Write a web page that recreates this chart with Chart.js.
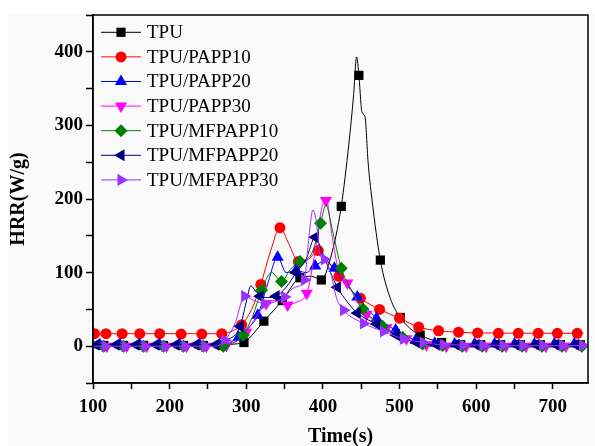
<!DOCTYPE html>
<html>
<head>
<meta charset="utf-8">
<title>HRR</title>
<script src="https://cdn.jsdelivr.net/npm/chart.js@4/dist/chart.umd.min.js"></script>
<style>
  body { margin: 0; background: #fafafa; }
  canvas { display: block; }
</style>
</head>
<body>
<canvas id="hrrChart" width="595" height="446"></canvas>
<script>
// Data HRR (W/g) terhadap waktu (s), dibaca dari gambar
// garis kurva
const tpuT = [100, 270, 285, 297, 310, 323, 347, 370, 385, 398, 410, 424, 434, 440, 444, 447, 451, 455, 459, 464, 475, 488, 501, 514, 527, 541, 555, 575, 740];
const tpuV = [1, 1, 3, 5, 18, 34, 62, 93, 95, 90, 120, 190, 276, 340, 393, 368, 318, 312, 250, 200, 117, 65, 39, 24, 15, 9, 5, 2, 1];
const p10T = [100, 268, 280, 294, 307, 319, 332, 344, 356, 368, 381, 394, 408, 421, 435, 449, 474, 500, 525, 551, 577, 602, 740];
const p10V = [17, 17, 20, 29, 50, 84, 130, 161, 138, 115, 118, 130, 113, 95, 78, 65, 50, 38, 26, 21, 19, 18, 17.5];
const p20T = [100, 265, 278, 290, 303, 315, 328, 341, 352, 365, 378, 390, 402, 415, 430, 445, 470, 495, 521, 546, 740];
const p20V = [2, 2, 5, 12, 25, 42, 85, 121, 100, 103, 100, 109, 116, 106, 85, 67, 38, 22, 8, 4, 3];
const p30T = [100, 270, 285, 300, 313, 326, 340, 354, 366, 379, 390, 398, 404, 412, 420, 432, 445, 457, 483, 509, 535, 740];
const p30V = [0, 0, 5, 19, 40, 58, 62, 56, 60, 72, 130, 185, 201, 150, 105, 86, 60, 43, 25, 10, 2, 0];
const m10T = [100, 270, 283, 296, 308, 320, 333, 346, 358, 370, 385, 397, 404, 412, 424, 438, 452, 478, 504, 530, 556, 740];
const m10V = [0, 0, 5, 15, 40, 76, 100, 88, 105, 115, 125, 167, 192, 160, 106, 75, 51, 27, 12, 3, 1, 0];
const m20T = [100, 260, 275, 292, 300, 306, 312, 318, 328, 339, 352, 365, 378, 390, 400, 410, 419, 432, 445, 470, 496, 522, 548, 740];
const m20V = [2, 2, 8, 27, 60, 82, 75, 68, 66, 68, 80, 100, 118, 148, 125, 100, 80, 60, 45, 30, 15, 5, 2, 2];
const m30T = [100, 260, 272, 285, 298, 310, 324, 337, 350, 363, 376, 381, 387, 392, 396, 402, 410, 418, 427, 453, 479, 505, 531, 557, 740];
const m30V = [0, 0, 8, 30, 68, 62, 58, 60, 67, 80, 90, 140, 185, 165, 125, 118, 100, 65, 49, 31, 20, 10, 5, 2, 1];

// posisi simbol
const tpuMarkT = [114, 140, 166, 192, 218, 244, 270, 297, 323, 347, 370, 398, 424, 447, 475, 501, 527, 555, 580, 606, 632, 658, 684, 710, 736];
const tpuMarkV = [1, 1, 1, 1, 1, 1, 1, 5, 34, 62, 93, 90, 190, 368, 117, 39, 15, 5, 2, 2, 2, 2, 2, 2, 2];
const p10MarkT = [102, 117, 138, 161, 187, 215, 242, 268, 294, 319, 344, 368, 394, 421, 449, 474, 500, 525, 551, 577, 602, 629, 655, 681, 706, 732];
const p10MarkV = [17, 17, 17, 17, 17, 16.5, 16.5, 17, 29, 84, 161, 115, 130, 95, 65, 50, 38, 26, 21, 19, 18, 17.5, 17.5, 17.5, 17.5, 17.5];
const p20MarkT = [109, 135, 161, 187, 213, 239, 265, 290, 315, 341, 365, 390, 415, 445, 470, 495, 521, 546, 572, 598, 624, 650, 676, 702, 728];
const p20MarkV = [2, 2, 2, 2, 2, 2, 2, 12, 42, 121, 103, 109, 106, 67, 38, 22, 8, 4, 3, 3, 3, 3, 3, 3, 3];
const p30MarkT = [118, 144, 170, 196, 222, 248, 274, 300, 326, 354, 379, 404, 432, 457, 483, 509, 535, 561, 587, 613, 639, 665, 691, 717];
const p30MarkV = [0, 0, 0, 0, 0, 0, 1, 19, 58, 56, 72, 198, 86, 43, 25, 10, 2, 0, 0, 0, 0, 0, 0, 0];
const m10MarkT = [114, 140, 166, 192, 218, 244, 270, 296, 320, 346, 370, 397, 424, 452, 478, 504, 530, 556, 582, 608, 634, 660, 686, 712, 738];
const m10MarkV = [0, 0, 0, 0, 0, 0, 0, 15, 76, 88, 115, 167, 106, 51, 27, 12, 3, 1, 0, 0, 0, 0, 0, 0, 0];
const m20MarkT = [104, 130, 156, 182, 208, 234, 260, 292, 318, 339, 365, 390, 419, 445, 470, 496, 522, 548, 574, 600, 626, 652, 678, 704, 730];
const m20MarkV = [2, 2, 2, 2, 2, 2, 2, 27, 68, 68, 100, 148, 80, 45, 30, 15, 5, 2, 2, 2, 2, 2, 2, 2, 2];
const m30MarkT = [116, 142, 168, 194, 220, 246, 272, 298, 324, 350, 376, 402, 427, 453, 479, 505, 531, 557, 583, 609, 635, 661, 687, 713, 739];
const m30MarkV = [0, 0, 0, 0, 0, 0, 8, 68, 58, 67, 90, 118, 49, 31, 20, 10, 5, 2, 1, 1, 1, 1, 1, 1, 1];

const seriesLabels = ['TPU', 'TPU/PAPP10', 'TPU/PAPP20', 'TPU/PAPP30', 'TPU/MFPAPP10', 'TPU/MFPAPP20', 'TPU/MFPAPP30'];

const serifFont = "'Liberation Serif', 'Times New Roman', serif";

const series = [
    { t: tpuT, v: tpuV, mt: tpuMarkT, mv: tpuMarkV, color: '#000000', style: 'rect', rot: 0, r: 6.5 },
    { t: p10T, v: p10V, mt: p10MarkT, mv: p10MarkV, color: '#ff0000', style: 'circle', rot: 0, r: 5.5 },
    { t: p20T, v: p20V, mt: p20MarkT, mv: p20MarkV, color: '#0000ff', style: 'triangle', rot: 0, r: 7 },
    { t: p30T, v: p30V, mt: p30MarkT, mv: p30MarkV, color: '#ff00ff', style: 'triangle', rot: 180, r: 7 },
    { t: m10T, v: m10V, mt: m10MarkT, mv: m10MarkV, color: '#008000', style: 'rectRot', rot: 0, r: 6.5 },
    { t: m20T, v: m20V, mt: m20MarkT, mv: m20MarkV, color: '#000080', style: 'triangle', rot: -90, r: 7 },
    { t: m30T, v: m30V, mt: m30MarkT, mv: m30MarkV, color: '#9933ff', style: 'triangle', rot: 90, r: 7 }
];

const toXY = (xs, ys) => xs.map((x, i) => ({ x: x, y: ys[i] }));

const datasets = [];
series.forEach((s, i) => {
    // garis
    datasets.push({
        label: seriesLabels[i],
        data: toXY(s.t, s.v),
        borderColor: s.color,
        borderWidth: 1,
        pointRadius: 0,
        cubicInterpolationMode: 'monotone',
        fill: false,
        order: 100 - 2 * i
    });
    // simbol
    datasets.push({
        label: seriesLabels[i] + ' symbol',
        data: toXY(s.mt, s.mv),
        showLine: false,
        pointStyle: s.style,
        rotation: s.rot,
        pointRadius: s.r,
        pointBackgroundColor: s.color,
        pointBorderColor: s.color,
        pointBorderWidth: 0,
        order: 99 - 2 * i
    });
});

// Latar belakang abu-abu muda
const bgPlugin = {
    id: 'bg',
    beforeDraw(chart) {
        const ctx = chart.ctx;
        ctx.save();
        ctx.fillStyle = '#ffffff';
        ctx.fillRect(0, 0, chart.width, chart.height);
        ctx.fillStyle = '#fafafa';
        ctx.fillRect(8, 13, chart.width - 8, chart.height - 13);
        ctx.restore();
    }
};

// Bingkai area plot + legenda
const framePlugin = {
    id: 'frame',
    afterDraw(chart) {
        const ctx = chart.ctx;
        const a = chart.chartArea;
        ctx.save();
        ctx.strokeStyle = '#000';
        ctx.lineWidth = 1.5;
        ctx.strokeRect(a.left, a.top, a.right - a.left, a.bottom - a.top);

        // legenda
        ctx.font = '19px ' + serifFont;
        ctx.textBaseline = 'middle';
        series.forEach((s, i) => {
            const y = 32.3 + 24.6 * i;
            ctx.strokeStyle = s.color;
            ctx.lineWidth = 1;
            ctx.beginPath();
            ctx.moveTo(101, y);
            ctx.lineTo(141, y);
            ctx.stroke();
            ctx.fillStyle = s.color;
            Chart.helpers.drawPoint(ctx, { pointStyle: s.style, radius: s.r, rotation: s.rot, borderWidth: 0 }, 121, y);
            ctx.fillStyle = '#000';
            ctx.fillText(seriesLabels[i], 147, y + 1);
        });
        ctx.restore();
    }
};

const tickFont = { family: serifFont, size: 19, weight: 'bold' };
const titleFont = { family: serifFont, size: 20, weight: 'bold' };

const ctx = document.getElementById('hrrChart').getContext('2d');
new Chart(ctx, {
    type: 'line',
    data: { datasets: datasets },
    options: {
        responsive: false,
        animation: false,
        devicePixelRatio: 1,
        layout: { padding: { left: 7, right: 2, top: 15, bottom: 0 } },
        plugins: {
            legend: { display: false },
            tooltip: { enabled: false }
        },
        scales: {
            x: {
                type: 'linear',
                min: 100,
                max: 746,
                afterFit: scale => { scale.height = 63; },
                ticks: {
                    stepSize: 50,
                    includeBounds: false,
                    autoSkip: false,
                    maxRotation: 0,
                    padding: 7,
                    color: '#000',
                    font: tickFont,
                    callback: v => (v % 100 === 0 ? v : '')
                },
                grid: { drawOnChartArea: false, drawTicks: true, tickLength: 6, tickWidth: 1.5, tickColor: '#000' },
                border: { display: true, color: '#000', width: 1.5 },
                title: { display: true, text: 'Time(s)', color: '#000', font: titleFont, padding: { top: 0, bottom: -3 } }
            },
            y: {
                min: -50,
                max: 450,
                afterFit: scale => { scale.width = 86; },
                ticks: {
                    stepSize: 50,
                    autoSkip: false,
                    padding: 3,
                    color: '#000',
                    font: tickFont,
                    callback: v => (v % 100 === 0 ? v : '')
                },
                grid: { drawOnChartArea: false, drawTicks: true, tickLength: 7, tickWidth: 1.5, tickColor: '#000' },
                border: { display: true, color: '#000', width: 1.5 },
                title: { display: true, text: 'HRR(W/g)', color: '#000', font: titleFont, padding: 0 }
            }
        }
    },
    plugins: [bgPlugin, framePlugin]
});
</script>
</body>
</html>
